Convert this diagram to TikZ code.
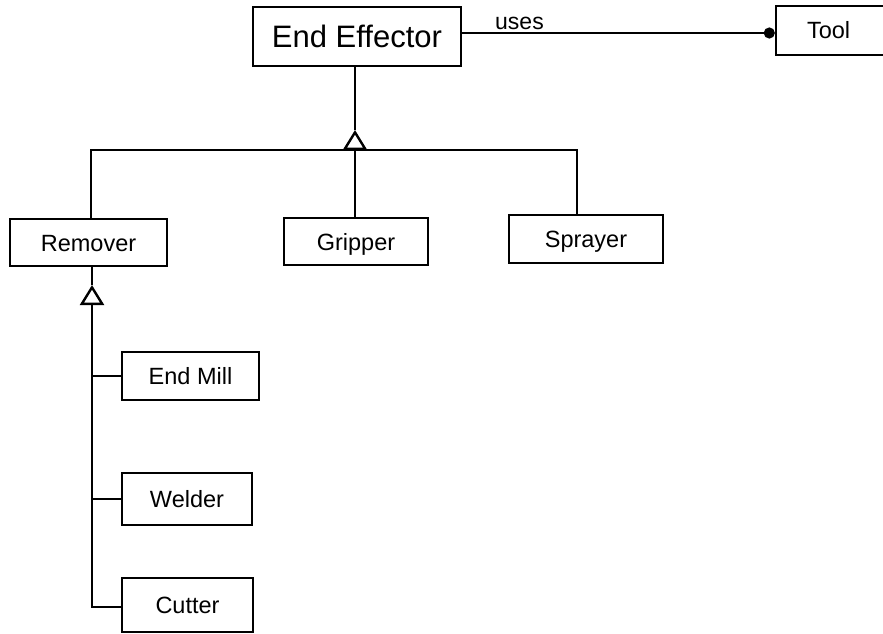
\documentclass[tikz,border=0pt]{standalone}
\usepackage{fontspec}
\setmainfont{Liberation Sans}
\usetikzlibrary{arrows.meta}

\tikzset{
  classbox/.style={draw, line width=2.4pt, inner sep=0pt, align=center,
    text height=17pt, text depth=0pt,
    font=\fontsize{23.5}{28}\selectfont},
  link/.style={line width=2.4pt},
  inherit/.style={link, -{Triangle[open, length=20pt, width=24pt, line width=2.4pt]}},
  uselink/.style={link, -{Circle[length=11pt]}}
}

\begin{document}
\begin{tikzpicture}[x=1pt, y=-1pt]
  \useasboundingbox (0,0) rectangle (883,634);

  % classes
  \node[classbox, minimum width=208pt, minimum height=59pt, text height=22pt,
        font=\fontsize{31}{36}\selectfont] (EE) at (357,36.5) {End Effector};
  \node[classbox, minimum width=120pt, minimum height=49pt,
        text width=58pt, align=left, inner xsep=31pt] (Tool) at (836,30.5) {Tool};
  \node[classbox, minimum width=157pt, minimum height=47pt] (Remover) at (88.5,242.5) {Remover};
  \node[classbox, minimum width=144pt, minimum height=47pt] (Gripper) at (356,241.5) {Gripper};
  \node[classbox, minimum width=154pt, minimum height=48pt] (Sprayer) at (586,239) {Sprayer};
  \node[classbox, minimum width=137pt, minimum height=48pt] (EndMill) at (190.5,376) {End Mill};
  \node[classbox, minimum width=130pt, minimum height=52pt] (Welder) at (187,499) {Welder};
  \node[classbox, minimum width=131pt, minimum height=54pt] (Cutter) at (187.5,605) {Cutter};

  % association End Effector -- Tool
  \coordinate (uy) at (0,33);
  \draw[uselink] (EE.east |- uy) -- (Tool.west |- uy);
  \node[anchor=base west, inner sep=0pt, font=\fontsize{23}{27}\selectfont] (uses) at (495,30) {uses};

  % generalization: End Effector subclasses
  \coordinate (gj) at (355,150);
  \coordinate (gapex) at (355,130);
  \coordinate (bl) at (91,150);
  \coordinate (br) at (577,150);
  \draw[link] (EE.south -| gj) -- (gapex);
  \draw[inherit] (gj) -- (gapex);
  \draw[link] (Remover.north -| bl) -- (bl) -- (br) -- (Sprayer.north -| br);
  \draw[link] (gj) -- (Gripper.north -| gj);

  % generalization: Remover subclasses
  \coordinate (rx) at (92,0);
  \coordinate (rapex) at (92,285);
  \coordinate (rbase) at (92,305);
  \coordinate (rend) at (92,607);
  \draw[link] (Remover.south -| rx) -- (rapex);
  \draw[inherit] (rbase) -- (rapex);
  \draw[link] (rbase) -- (rend) -- (Cutter.west |- rend);
  \draw[link] (rx |- EndMill.west) -- (EndMill.west);
  \draw[link] (rx |- Welder.west) -- (Welder.west);
\end{tikzpicture}
\end{document}
